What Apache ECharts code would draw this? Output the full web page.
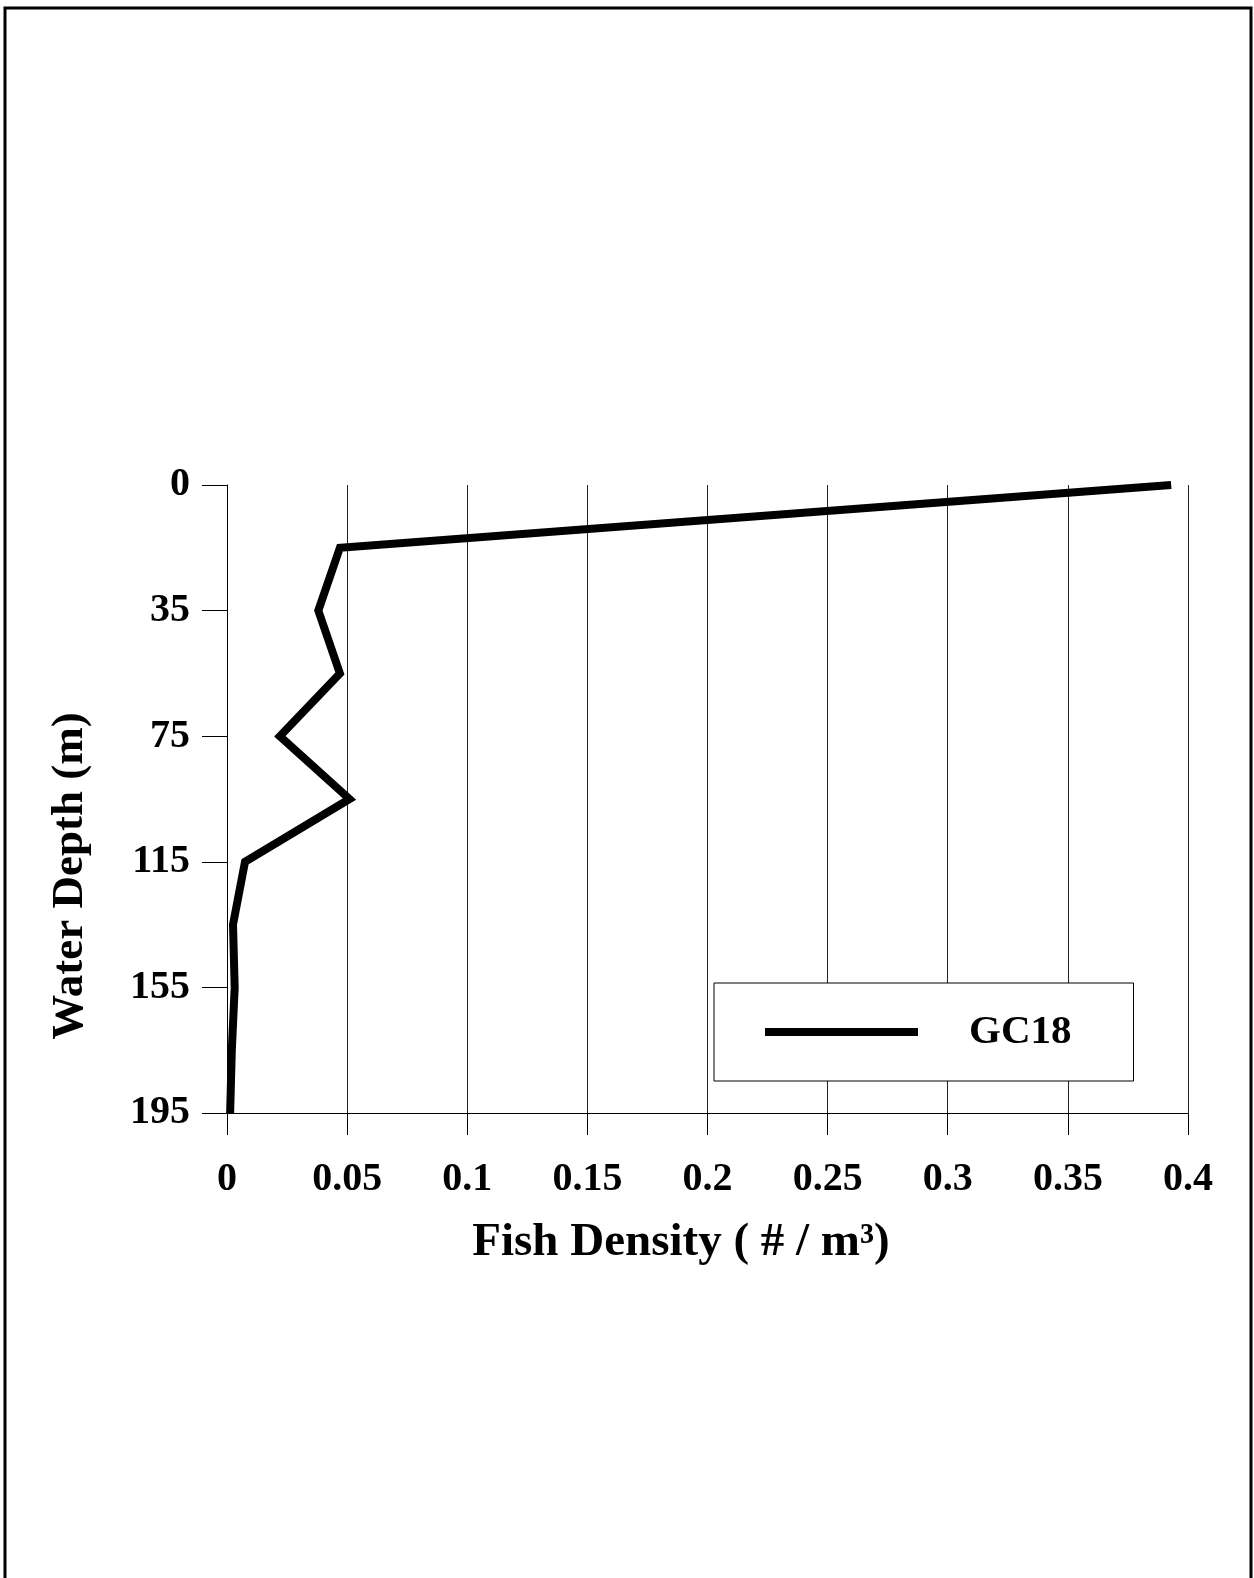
<!DOCTYPE html>
<html>
<head>
<meta charset="utf-8">
<script src="https://cdn.jsdelivr.net/npm/echarts@6/dist/echarts.min.js"></script>
<style>
html,body{margin:0;padding:0;background:#fff;}
#chart{width:1254px;height:1578px;}
</style>
</head>
<body>
<div id="chart"></div>
<script>
const depths = ["0","15","35","55","75","95","115","135","155","175","195"];
const densityGC18 = [0.393, 0.047, 0.038, 0.047, 0.022, 0.051, 0.0075, 0.0025, 0.0032, 0.0020, 0.0013];
const seriesName = "GC18";
const xTitle = "Fish Density ( # / m³)";
const yTitle = "Water Depth (m)";

const FONT = "Liberation Serif";
const chart = echarts.init(document.getElementById('chart'), null, {renderer: 'canvas'});
chart.setOption({
  backgroundColor: '#fff',
  animation: false,
  grid: {left: 227, right: 66, top: 485, bottom: 465, containLabel: false},
  xAxis: {
    type: 'value', min: 0, max: 0.4, interval: 0.05,
    axisLine: {show: true, lineStyle: {color: '#000', width: 1}},
    axisTick: {show: true, length: 22, lineStyle: {color: '#000', width: 1}},
    splitLine: {show: true, lineStyle: {color: '#222', width: 1}},
    axisLabel: {margin: 47, color: '#000', fontFamily: FONT, fontWeight: 'bold', fontSize: 40,
      formatter: v => String(+v.toFixed(2))}
  },
  yAxis: {
    type: 'category', data: depths, inverse: true, boundaryGap: false,
    axisLine: {show: true, lineStyle: {color: '#000', width: 1}},
    axisTick: {show: true, length: 25, interval: 1, lineStyle: {color: '#000', width: 1}},
    splitLine: {show: false},
    axisLabel: {interval: 1, margin: 37, color: '#000', fontFamily: FONT, fontWeight: 'bold', fontSize: 40}
  },
  legend: {
    show: true, left: 714, top: 983, orient: 'horizontal',
    backgroundColor: '#fff', borderColor: '#000', borderWidth: 1,
    padding: [28, 62, 28, 51],
    icon: 'rect', itemWidth: 153, itemHeight: 8,
    itemStyle: {color: '#000'},
    textStyle: {color: '#000', fontFamily: FONT, fontWeight: 'bold', fontSize: 41, lineHeight: 42, padding: [0, 0, 0, 46]},
    data: [seriesName]
  },
  series: [{
    name: seriesName, type: 'line', data: densityGC18.map((v, i) => [v, depths[i]]),
    showSymbol: false, symbol: 'none',
    lineStyle: {color: '#000', width: 8, join: 'miter'},
    itemStyle: {color: '#000'}
  }],
  graphic: [
    {type: 'rect', shape: {x: 5, y: 8, width: 1246, height: 1620}, style: {fill: 'none', stroke: '#000', lineWidth: 3}, silent: true},
    {type: 'text', x: 681, y: 1243, style: {text: xTitle, fill: '#000', font: 'bold 47px "Liberation Serif"', textAlign: 'center', textVerticalAlign: 'middle'}},
    {type: 'text', x: 70, y: 876, rotation: Math.PI / 2, style: {text: yTitle, fill: '#000', font: 'bold 45px "Liberation Serif"', textAlign: 'center', textVerticalAlign: 'middle'}}
  ]
});
</script>
</body>
</html>
